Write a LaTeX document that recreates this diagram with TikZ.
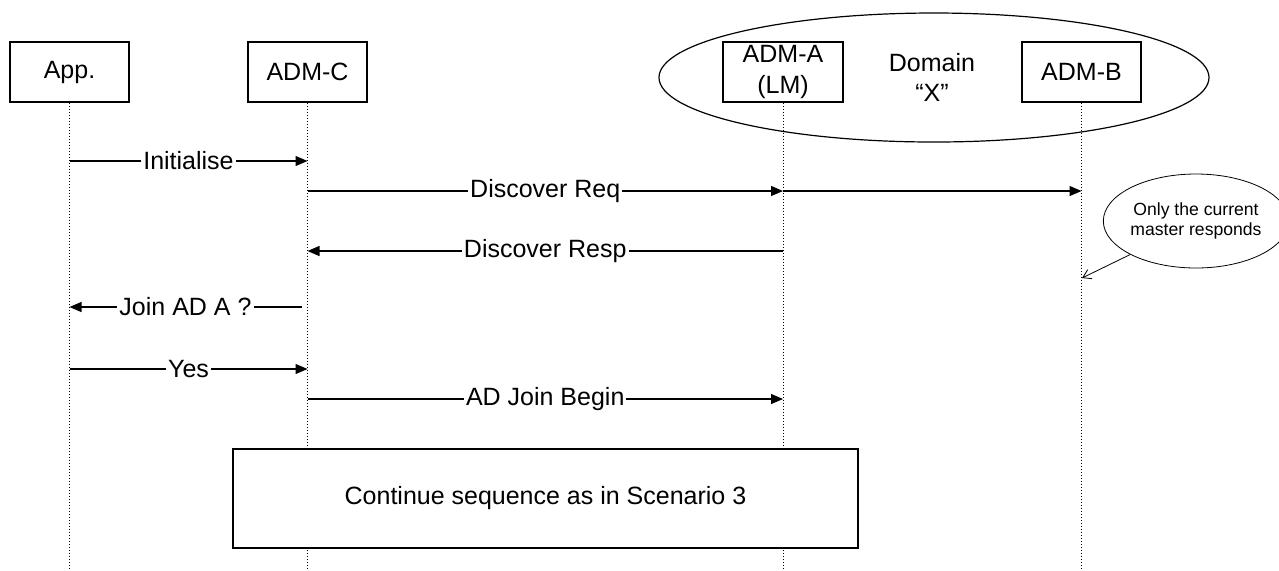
\documentclass[tikz,border=0pt]{standalone}
\usepackage{fontspec}
\setmainfont{Liberation Sans}
\usetikzlibrary{arrows.meta,calc,shapes.geometric}
\begin{document}
\begin{tikzpicture}[x=0.5pt,y=-0.5pt,
  font=\fontsize{12.5}{15.5}\selectfont,
  entity/.style={draw,fill=white,line width=0.6pt,minimum width=59.5pt,minimum height=30pt,align=center,inner sep=1pt},
  life/.style={densely dotted,line width=0.5pt},
  msg/.style={line width=0.6pt,-{Triangle[length=6pt,width=5pt]}},
  lbl/.style={fill=white,inner sep=1pt}]
\useasboundingbox (0,0) rectangle (1279,570);
\node[draw,ellipse,line width=0.6pt,minimum width=275pt,minimum height=64.5pt] (domain) at (934,77.5) {};
\node[align=center,font=\fontsize{12.5}{15}\selectfont] (dname) at (932,77) {Domain\\“X”};
\node[entity] (app) at (69.5,72) {App.};
\node[entity] (admc) at (307.5,72) {ADM-C};
\node[entity,minimum width=60pt] (adma) at (783,72) {ADM-A\\(LM)};
\node[entity] (admb) at (1081.5,72) {ADM-B};
\foreach \n in {app,admc,adma,admb}
  \draw[life] (\n.south) -- (\n |- 0,570);
\draw[msg] (app |- 0,161) -- node[lbl] {Initialise} (admc |- 0,161);
\draw[msg] (admc |- 0,191) -- node[lbl] {Discover Req} (adma |- 0,191);
\draw[msg] (adma |- 0,191) -- (admb |- 0,191);
\draw[msg] (adma |- 0,251) -- node[lbl] {Discover Resp} (admc |- 0,251);
\draw[msg] ($(admc |- 0,307)+(-6,0)$) -- node[lbl] {Join AD A ?} (app |- 0,307);
\draw[msg] (app |- 0,369) -- node[lbl] {Yes} (admc |- 0,369);
\draw[msg] (admc |- 0,399) -- node[lbl] {AD Join Begin} (adma |- 0,399);
\node[draw,fill=white,line width=0.6pt,minimum width=312.5pt,minimum height=49.5pt] (cont) at (545.5,498.5) {Continue sequence as in Scenario 3};
\node[draw,ellipse,inner sep=0pt,minimum width=82pt,minimum height=47pt,align=center,font=\fontsize{8.8}{10}\selectfont] (note) at (1196,221) {Only the current\\master responds};
\coordinate (tip) at (1082,278);
\draw[line width=0.4pt,-{Straight Barb[length=4pt,width=5pt]}] (note.207) -- (tip);
\end{tikzpicture}
\end{document}
